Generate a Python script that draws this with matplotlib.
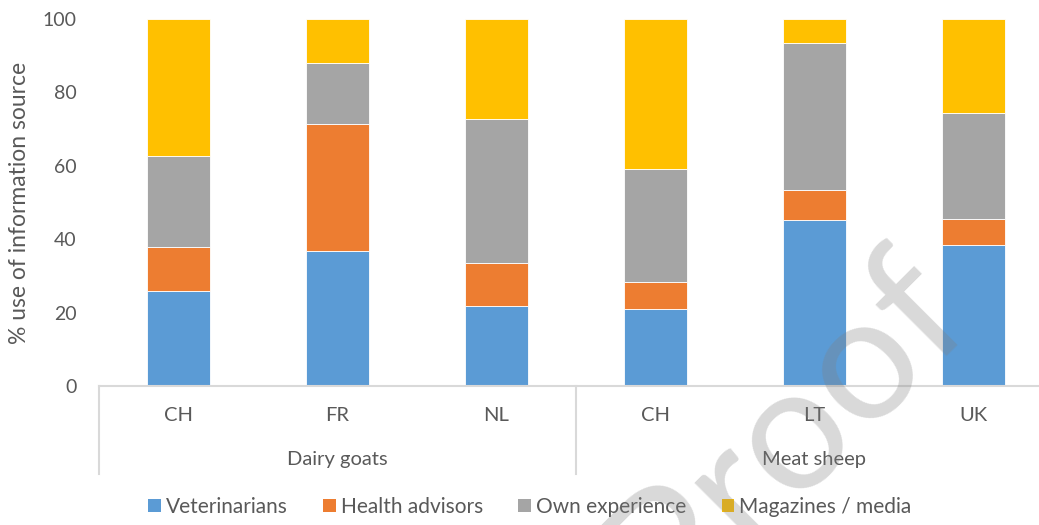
import matplotlib
matplotlib.use("Agg")
import matplotlib.pyplot as plt
import matplotlib.transforms as mtransforms
from matplotlib.patches import Patch
import numpy as np

plt.rcParams['font.family'] = ['Lato', 'DejaVu Sans']

countries = ["CH", "FR", "NL", "CH", "LT", "UK"]
groups = ["Dairy goats", "Meat sheep"]
group_sizes = [3, 3]
series_names = ["Veterinarians", "Health advisors", "Own experience", "Magazines / media"]
veterinarians = [26.0, 36.7, 21.9, 21.0, 45.2, 38.5]
health_advisors = [12.0, 34.8, 11.7, 7.2, 8.2, 6.9]
own_experience = [24.8, 16.4, 39.1, 30.8, 40.0, 28.9]
magazines_media = [37.2, 12.1, 27.3, 41.0, 6.6, 25.7]
colors = ["#5B9BD5", "#ED7D31", "#A5A5A5", "#FFC000"]
yticks = [0, 20, 40, 60, 80, 100]

text_color = "#595959"
line_color = "#D9D9D9"

fig = plt.figure(figsize=(10.39, 5.25), dpi=100)
ax = fig.add_axes([0.0953, 0.2648, 0.918, 0.699])

x = np.arange(len(countries))
bottom = np.zeros(len(countries))
for vals, c, name in zip([veterinarians, health_advisors, own_experience, magazines_media], colors, series_names):
    ax.bar(x, vals, width=0.4, bottom=bottom, color=c, edgecolor="white", linewidth=0.6, label=name, zorder=2)
    bottom += np.array(vals)

ax.set_xlim(-0.5, len(countries) - 0.5)
ax.set_ylim(0, 100)
ax.set_yticks(yticks)
ax.set_yticklabels([str(t) for t in yticks])
ax.tick_params(axis='y', length=0, pad=16, labelsize=14, labelcolor=text_color)
ax.set_xticks(x)
ax.set_xticklabels(countries)
ax.tick_params(axis='x', length=0, pad=15, labelsize=14.5, labelcolor=text_color)

for s in ["left", "right", "top"]:
    ax.spines[s].set_visible(False)
ax.spines["bottom"].set_color(line_color)
ax.spines["bottom"].set_linewidth(1.5)

ax.set_ylabel("% use of information source", fontsize=16.5, color=text_color)
ax.yaxis.set_label_coords(-0.072, 0.5)

trans = mtransforms.blended_transform_factory(ax.transData, ax.transAxes)
start = -0.5
for g, n in zip(groups, group_sizes):
    ax.plot([start, start], [0, -0.24], transform=trans, color=line_color, lw=1.5, clip_on=False)
    ax.text(start + n / 2, -0.2016, g, transform=trans, ha='center', va='center', fontsize=14.5, color=text_color)
    start += n

handles = [Patch(facecolor=c, edgecolor='none') for c in colors]
fig.legend(handles, series_names, loc='center', bbox_to_anchor=(0.51, 0.034), ncol=4, frameon=False,
           fontsize=15, labelcolor=text_color, handlelength=0.6, handleheight=0.6, handletextpad=0.25,
           columnspacing=1.7)

fig.text(0.757, 0.18, "Proof", fontsize=126, rotation=45, color=(0.5, 0.5, 0.5), alpha=0.3,
         ha='center', va='center', zorder=10)

fig.savefig("out.png", dpi=100)
